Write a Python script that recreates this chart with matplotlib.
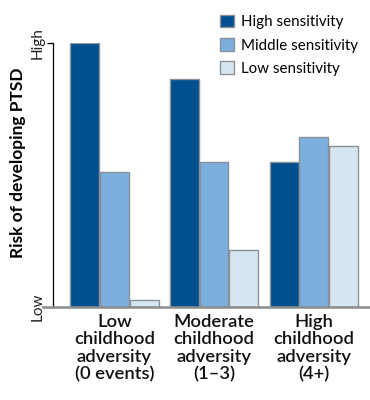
import matplotlib.pyplot as plt
import numpy as np

plt.rcParams["font.family"] = ["Lato", "DejaVu Sans"]

groups = ["Low\nchildhood\nadversity\n(0 events)",
          "Moderate\nchildhood\nadversity\n(1\u20133)",
          "High\nchildhood\nadversity\n(4+)"]
series_names = ["High sensitivity", "Middle sensitivity", "Low sensitivity"]
high_sens = [1.0, 0.863, 0.551]
mid_sens = [0.513, 0.551, 0.643]
low_sens = [0.027, 0.217, 0.608]
colors = ["#00508f", "#7bafdd", "#d5e6f0"]

fig = plt.figure(figsize=(3.7, 4.0), dpi=100)
ax = fig.add_axes([53 / 370, 93 / 400, 317 / 370, 264 / 400])

x = np.arange(len(groups))
width = 0.29
offsets = [-0.295, 0.0, 0.30]
for vals, off, col, name in zip([high_sens, mid_sens, low_sens], offsets, colors, series_names):
    ax.bar(x + off, vals, width, color=col, edgecolor="#8a9099", linewidth=1.0, label=name)

ax.set_xlim(-0.615, 2.565)
ax.set_ylim(0, 1.0)

ax.spines["top"].set_visible(False)
ax.spines["right"].set_visible(False)
ax.spines["bottom"].set_visible(False)
ax.spines["left"].set_color("black")
ax.spines["left"].set_linewidth(0.9)
ax.axhline(0, xmin=-0.03, xmax=1, color="#8c8c8c", linewidth=1.8, clip_on=False, zorder=5)

ax.set_yticks([0, 1])
ax.set_yticklabels(["Low", "High"], rotation=90, va="center", fontsize=11, color="#222222")
ax.tick_params(axis="y", length=4, width=0.9, pad=2)
ax.get_yticklines()[0].set_visible(False)

ax.set_xticks(x)
ax.set_xticklabels(groups, fontsize=13.2, fontweight="semibold", color="#111111", linespacing=1.11)
ax.tick_params(axis="x", length=0, pad=5)

ax.set_ylabel("Risk of developing PTSD", fontsize=12.5, fontweight="bold")
ax.yaxis.set_label_coords(-0.085, 0.545)

leg = ax.legend(loc="upper right", bbox_to_anchor=(1.006, 1.158), frameon=False, fontsize=10.9,
                handlelength=0.9, handleheight=0.9, handletextpad=0.5, labelspacing=0.58)
for h in leg.legend_handles:
    h.set_edgecolor("#8a9099")

fig.savefig("out.png", dpi=100)
